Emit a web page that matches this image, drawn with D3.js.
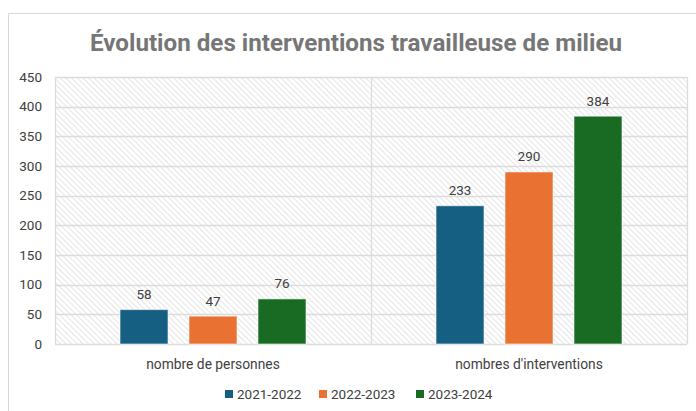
<!DOCTYPE html>
<html>
<head>
<meta charset="utf-8">
<script src="https://cdn.jsdelivr.net/npm/d3@7"></script>
<style>
  body { margin: 0; background: #fff; }
  text { font-family: Roboto, "Liberation Sans", sans-serif; }
</style>
</head>
<body>
<div id="chart"></div>
<script>
var categories = ["nombre de personnes", "nombres d'interventions"];
var seriesNames = ["2021-2022", "2022-2023", "2023-2024"];
var values2021 = [58, 233];
var values2022 = [47, 290];
var values2023 = [76, 384];
var yTicks = [0, 50, 100, 150, 200, 250, 300, 350, 400, 450];
var colors = ["#156082", "#E97132", "#196B24"];

var width = 696, height = 411;
var plotLeft = 55, plotRight = 687, plotTop = 77, plotBottom = 344;

var svg = d3.select("#chart").append("svg")
    .attr("width", width)
    .attr("height", height);

// hatch pattern for the plot background (lines going down to the right)
var defs = svg.append("defs");
var pat = defs.append("pattern")
    .attr("id", "hatch")
    .attr("patternUnits", "userSpaceOnUse")
    .attr("width", 4).attr("height", 4)
    .attr("patternTransform", "rotate(45)");
pat.append("line")
    .attr("x1", 0).attr("y1", 0).attr("x2", 4).attr("y2", 0)
    .attr("stroke", "#dadada").attr("stroke-width", 1.4);

// outer chart border (only top and left visible)
svg.append("path")
    .attr("d", "M8.5," + height + " V13.5 H" + width)
    .attr("fill", "none")
    .attr("stroke", "#d9d9d9");

svg.append("text")
    .attr("x", 90).attr("y", 51)
    .attr("textLength", 532)
    .attr("lengthAdjust", "spacingAndGlyphs")
    .attr("fill", "#767676")
    .style("font-size", "23px")
    .style("font-weight", "bold")
    .text("Évolution des interventions travailleuse de milieu");

var y = d3.scaleLinear().domain([0, 450]).range([plotBottom, plotTop]);
var x0 = d3.scaleBand().domain(categories).range([plotLeft, plotRight]);
var x1 = d3.scaleBand().domain(seriesNames)
    .range([65, x0.bandwidth() - 65])
    .paddingInner(0.304);

svg.append("rect")
    .attr("x", plotLeft).attr("y", plotTop)
    .attr("width", plotRight - plotLeft).attr("height", plotBottom - plotTop)
    .attr("fill", "url(#hatch)");

// gridlines
svg.append("g").selectAll("line")
    .data(yTicks)
    .join("line")
    .attr("x1", plotLeft).attr("x2", plotRight)
    .attr("y1", d => Math.round(y(d)) + 0.5)
    .attr("y2", d => Math.round(y(d)) + 0.5)
    .attr("stroke", "#dcdcdc")
    .attr("stroke-width", 1.3);

svg.append("g").selectAll("line")
    .data([plotLeft, x0(categories[1]), plotRight])
    .join("line")
    .attr("x1", d => Math.round(d) + 0.5).attr("x2", d => Math.round(d) + 0.5)
    .attr("y1", plotTop).attr("y2", plotBottom)
    .attr("stroke", "#dcdcdc")
    .attr("stroke-width", 1.3);

// y axis labels
var yAxis = d3.axisLeft(y).tickValues(yTicks).tickSize(0).tickPadding(13);
var ya = svg.append("g")
    .attr("transform", "translate(" + plotLeft + ",0)")
    .call(yAxis);
ya.select(".domain").remove();
ya.selectAll("text")
    .attr("fill", "#404040")
    .style("font-size", "13.5px");

// x axis labels
var xAxis = d3.axisBottom(x0).tickSize(0).tickPadding(15);
var xa = svg.append("g")
    .attr("transform", "translate(0," + plotBottom + ")")
    .call(xAxis);
xa.select(".domain").remove();
xa.selectAll("text")
    .attr("fill", "#404040")
    .style("font-size", "13.8px");

var allValues = [values2021, values2022, values2023];
var barData = [];
categories.forEach(function (c, ci) {
    seriesNames.forEach(function (s, si) {
        barData.push({ cat: c, series: s, value: allValues[si][ci], color: colors[si] });
    });
});

var barG = svg.append("g");
barG.selectAll("rect")
    .data(barData)
    .join("rect")
    .attr("x", d => x0(d.cat) + x1(d.series))
    .attr("y", d => y(d.value))
    .attr("width", x1.bandwidth())
    .attr("height", d => y(0) - y(d.value))
    .attr("fill", d => d.color)
    .attr("stroke", "#ffffff")
    .attr("stroke-opacity", 0.6)
    .attr("stroke-width", 1);

barG.selectAll("text")
    .data(barData)
    .join("text")
    .attr("x", d => x0(d.cat) + x1(d.series) + x1.bandwidth() / 2)
    .attr("y", d => y(d.value) - 10.5)
    .attr("text-anchor", "middle")
    .attr("fill", "#404040")
    .style("font-size", "13.5px")
    .text(d => d.value);

// legend
var legendX = [225, 319, 416];
var legend = svg.append("g").selectAll("g")
    .data(seriesNames)
    .join("g")
    .attr("transform", (d, i) => "translate(" + legendX[i] + ",390)");
legend.append("rect")
    .attr("width", 8).attr("height", 8)
    .attr("fill", (d, i) => colors[i]);
legend.append("text")
    .attr("x", 12).attr("y", 8.5)
    .attr("fill", "#404040")
    .style("font-size", "13.5px")
    .text(d => d);
</script>
</body>
</html>
